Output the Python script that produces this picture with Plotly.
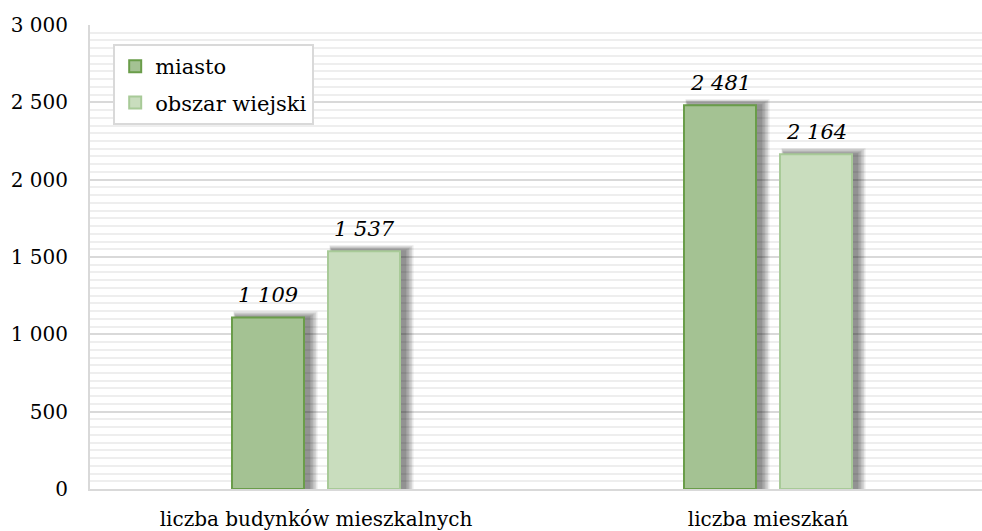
import plotly.graph_objects as go

categories = ["liczba budynków mieszkalnych", "liczba mieszkań"]
series_names = ["miasto", "obszar wiejski"]
miasto = [1109, 2481]
obszar = [1537, 2164]
y_ticks = [0, 500, 1000, 1500, 2000, 2500, 3000]

def fmt(v):
    return f"{v:,}".replace(",", " ")

FONT = "DejaVu Serif"
PX = 1 / 452.0          # x data units per pixel
PY = 3000 / 464.0       # y data units per pixel
BW = 72 * PX
offsets = [-84 * PX, 12 * PX]
fills = ["#a4c293", "#c9ddbe"]
lines = ["#6a9d4a", "#a8ca98"]
series_vals = [miasto, obszar]

fig = go.Figure()

# soft shadows behind bars
for s, vals in enumerate(series_vals):
    for k in range(6):
        grow = 2 + 2 * k
        fig.add_trace(go.Bar(
            x=[0, 1], y=[v + (1 + k) * PY for v in vals],
            width=BW + grow * PX, offset=offsets[s] + (4 - k / 2) * PX,
            marker=dict(color="rgba(0,0,0,0.085)", line=dict(width=0)),
            showlegend=False, hoverinfo="skip",
        ))

for s, vals in enumerate(series_vals):
    fig.add_trace(go.Bar(
        x=[0, 1], y=vals, name=series_names[s], legendgroup=series_names[s],
        width=BW, offset=offsets[s],
        marker=dict(color=fills[s], line=dict(color=lines[s], width=2)),
    ))
    for i, v in enumerate(vals):
        fig.add_annotation(
            x=i + offsets[s] + BW / 2, y=v, text=fmt(v), showarrow=False,
            yanchor="bottom", yshift=8,
            font=dict(family=FONT, size=21, color="#000000", style="italic"),
        )

fig.update_layout(
    width=982, height=531,
    margin=dict(l=90, r=0, t=25, b=42),
    paper_bgcolor="white", plot_bgcolor="white",
    barmode="overlay",
    separators=", ",
    font=dict(family=FONT, size=19, color="#000000"),
    showlegend=True,
    legend=dict(
        x=0.026, y=0.959, xanchor="left", yanchor="top",
        bgcolor="white", bordercolor="#d9d9d9", borderwidth=2,
        font=dict(family=FONT, size=21, color="#000000"),
        tracegroupgap=6, itemwidth=30,
    ),
    xaxis=dict(
        tickmode="array", tickvals=[0, 1], ticktext=categories,
        range=[-0.5, 1.5 - 12 * PX],
        showgrid=False, zeroline=False, automargin=False,
        showline=True, linecolor="#d9d9d9", linewidth=2,
        ticks="", ticklabelstandoff=11,
        tickfont=dict(family=FONT, size=20, color="#000000"),
    ),
    yaxis=dict(
        range=[0, 3000], tickvals=y_ticks, tickformat=",d",
        showgrid=True, gridcolor="#d9d9d9", gridwidth=2,
        minor=dict(dtick=50, showgrid=True, gridcolor="#eeeeee", gridwidth=2),
        zeroline=False, automargin=False,
        showline=True, linecolor="#d9d9d9", linewidth=2,
        ticks="", ticklabelstandoff=16,
        tickfont=dict(family=FONT, size=20, color="#000000"),
    ),
)

fig.write_html(
    "out.html",
    config={"displayModeBar": False},
    post_script=(
        "document.body.style.margin='0px';"
        "document.body.style.overflow='hidden';"
        "document.documentElement.style.overflow='hidden';"
    ),
)
